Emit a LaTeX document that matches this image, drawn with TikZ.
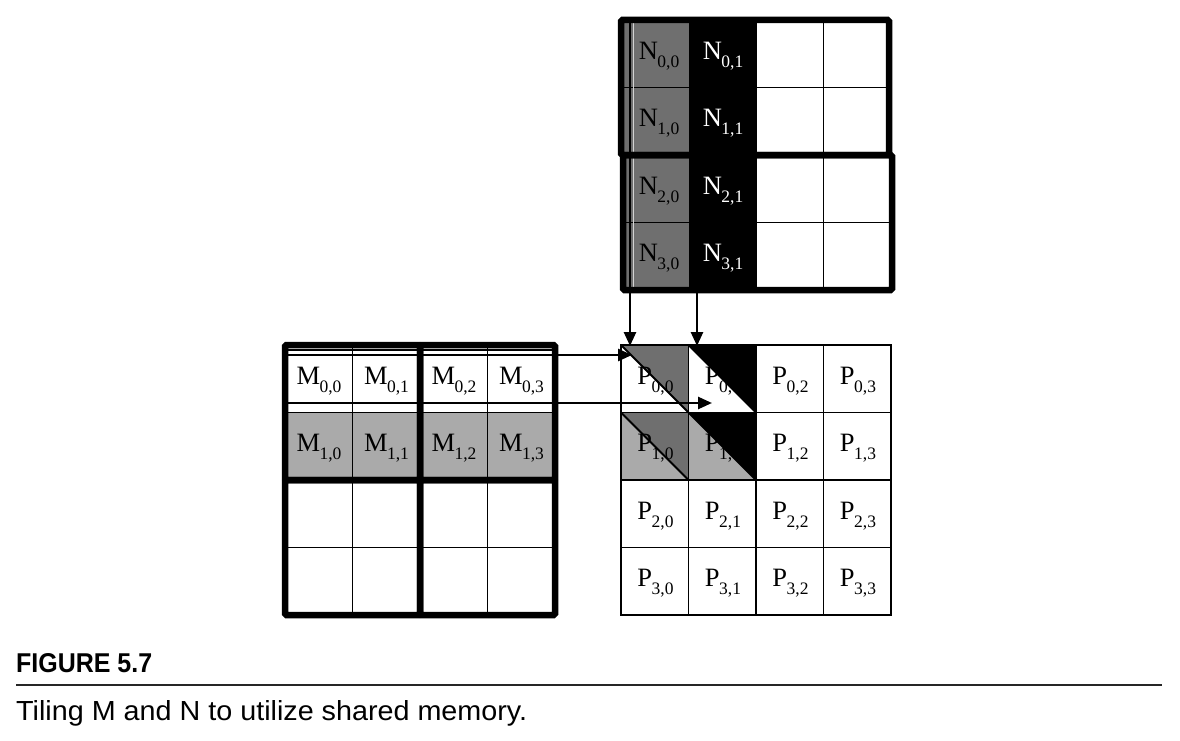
\documentclass[tikz,border=0pt]{standalone}
\usepackage{fontspec}
\setmainfont{Liberation Serif}
\newfontfamily\capfont{Liberation Sans}
\usetikzlibrary{arrows.meta}
\definecolor{dgray}{gray}{0.435}
\definecolor{lgray}{gray}{0.665}
\newcommand\ent[3]{#1\kern-0.5pt\raisebox{-0.3em}{\fontsize{17.5}{17.5}\selectfont #2,#3}}
\begin{document}
\begin{tikzpicture}[x=1pt,y=-1pt,
  gridline/.style={line width=1.9pt},
  tileborder/.style={line width=6.5pt, rounded corners=1.5pt},
  lbl/.style={font=\fontsize{26.5}{26.5}\selectfont, inner sep=0pt, anchor=center},
  arr/.style={line width=2.6pt, -{Triangle[length=14pt,width=12pt]}},
  capline/.style={line width=2.8pt, draw=black!85},
]
\useasboundingbox (0,0) rectangle (1180,741);
% ---------------- N matrix ----------------
\fill[dgray] (621,20) rectangle (688.5,290);
\fill[black] (688.5,20) rectangle (756,290);
\foreach \y in {87.5,222.5} \draw[gridline] (621,\y) -- (891,\y);
\draw[gridline] (823.5,20) -- (823.5,290);
\draw[gridline] (756,20) -- (756,290);
\draw[white!70!dgray, line width=1.2pt] (633.5,20) -- (633.5,290);
\draw[tileborder] (621,20) rectangle (889,155);
\draw[tileborder] (623,155) rectangle (892,290);
\foreach \r in {0,...,3} {
  \node[lbl] (n\r0) at (659,{20+67.5*\r+36}) {\ent{N}{\r}{0}};
  \node[lbl, text=white] (n\r1) at (723,{20+67.5*\r+36}) {\ent{N}{\r}{1}};
}
% ---------------- M matrix ----------------
\fill[lgray] (285,412.5) rectangle (555,480);
\foreach \y in {350,412.5,547.5} \draw[gridline] (285,\y) -- (555,\y);
\foreach \x in {352.5,487.5} \draw[gridline] (\x,345) -- (\x,615);
\draw[tileborder] (285,345) rectangle (420,480);
\draw[tileborder] (420,345) rectangle (555,480);
\draw[tileborder] (285,480) rectangle (420,615);
\draw[tileborder] (420,480) rectangle (555,615);
\foreach \c in {0,...,3} {
  \node[lbl] (m0\c) at ({285+67.5*\c+34},381) {\ent{M}{0}{\c}};
  \node[lbl] (m1\c) at ({285+67.5*\c+34},448) {\ent{M}{1}{\c}};
}
% ---------------- P matrix ----------------
\fill[dgray] (621,345) -- (688.5,345) -- (688.5,412.5) -- cycle;
\fill[black] (688.5,345) -- (756,345) -- (756,412.5) -- cycle;
\fill[dgray] (621,412.5) -- (688.5,412.5) -- (688.5,480) -- cycle;
\fill[lgray] (621,412.5) -- (621,480) -- (688.5,480) -- cycle;
\fill[black] (688.5,412.5) -- (756,412.5) -- (756,480) -- cycle;
\fill[lgray] (688.5,412.5) -- (688.5,480) -- (756,480) -- cycle;
\draw[gridline] (621,345) -- (756,480);
\draw[gridline] (688.5,345) -- (756,412.5);
\draw[gridline] (621,412.5) -- (688.5,480);
\foreach \x in {688.5,756,823.5} \draw[gridline] (\x,345) -- (\x,615);
\foreach \y in {412.5,480,547.5} \draw[gridline] (621,\y) -- (891,\y);
\draw[line width=2.4pt] (621,345) rectangle (891,615);
\foreach \r in {0,...,3} \foreach \c in {0,...,3} {
  \node[lbl] (p\r\c) at ({621+67.5*\c+34.5},{345+67.5*\r+36}) {\ent{P}{\r}{\c}};
}
% ---------------- arrows ----------------
\coordinate (na) at (630,20);
\coordinate (nb) at (697,20);
\coordinate (pa) at (630,346);
\coordinate (pb) at (697,346);
\coordinate (ma) at (285,355);
\coordinate (mb) at (285,403);
\coordinate (qa) at (632,355);
\coordinate (qb) at (712,403);
\draw[arr] (na) -- (pa);
\draw[arr] (nb) -- (pb);
\draw[arr] (ma) -- (qa);
\draw[arr] (mb) -- (qb);
% ---------------- caption ----------------
\node[inner sep=0pt, anchor=base west] (figlabel) at (16,672)
  {\resizebox{136pt}{19pt}{\capfont\bfseries FIGURE 5.7}};
\coordinate (cl) at (16,685);
\coordinate (cr) at (1162,685);
\draw[capline] (cl) -- (cr);
\node[inner sep=0pt, anchor=base west] (captxt) at (16,720)
  {\resizebox{511pt}{20pt}{\capfont Tiling M and N to utilize shared memory.}};
\end{tikzpicture}
\end{document}
